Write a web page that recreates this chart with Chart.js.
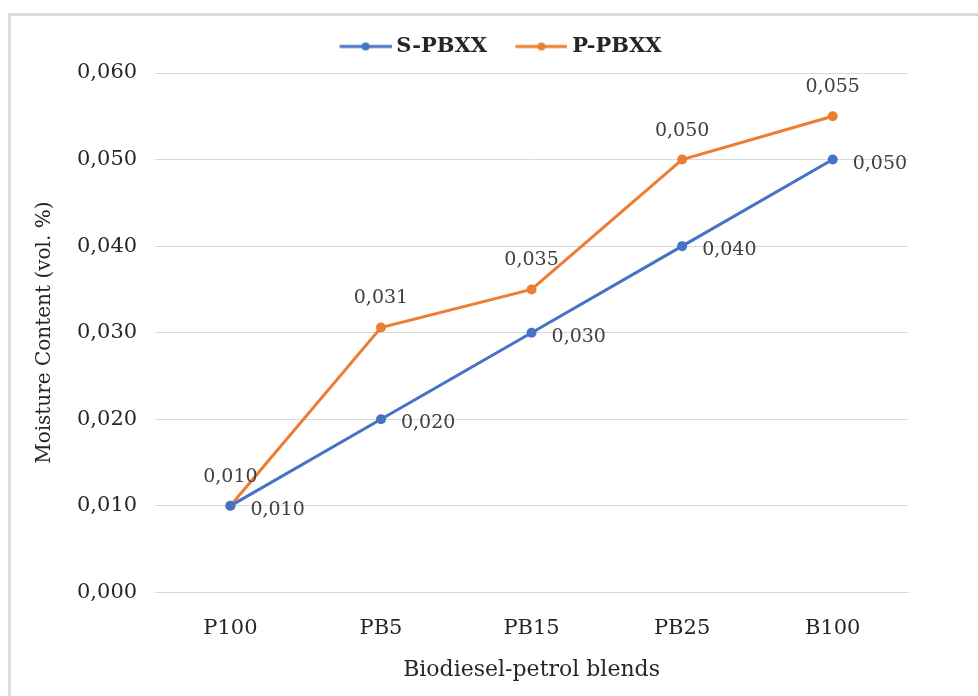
<!DOCTYPE html>
<html>
<head>
<meta charset="utf-8">
<script src="https://cdn.jsdelivr.net/npm/chart.js@4/dist/chart.umd.min.js"></script>
<style>
  html, body { margin: 0; padding: 0; background: #fff; }
  #wrap { position: relative; width: 978px; height: 696px; overflow: hidden; }
  #frame { position: absolute; left: 8px; top: 13px; width: 990px; height: 700px; border-left: 3px solid #dcdcdc; border-top: 3px solid #dcdcdc; box-sizing: border-box; }
  canvas { position: absolute; left: 0; top: 0; }
</style>
</head>
<body>
<div id="wrap">
  <div id="frame"></div>
  <canvas id="c" width="978" height="696"></canvas>
</div>
<script>
const categories = ["P100", "PB5", "PB15", "PB25", "B100"];
const sPBXX = [0.010, 0.020, 0.030, 0.040, 0.050];
const pPBXX = [0.010, 0.0306, 0.035, 0.050, 0.055];
const seriesNames = ["S-PBXX", "P-PBXX"];
const colors = ["#4472C4", "#ED7D31"];

const FONT = "'DejaVu Serif', 'Liberation Serif', serif";

function fmt(v) { return v.toFixed(3).replace('.', ','); }

// legend icon: line with a dot; image is wider than the legend box so the
// line sits close to the text like in the reference
function legendIcon(color) {
  const c = document.createElement('canvas');
  c.width = 76; c.height = 12;
  const x = c.getContext('2d');
  x.strokeStyle = color; x.lineWidth = 3;
  x.beginPath(); x.moveTo(24, 6); x.lineTo(76, 6); x.stroke();
  x.fillStyle = color;
  x.beginPath(); x.arc(50, 6, 4, 0, Math.PI * 2); x.fill();
  return c;
}
const icons = colors.map(legendIcon);

const legendTweak = {
  id: 'legendTweak',
  beforeInit(chart) {
    const fit = chart.legend.fit;
    chart.legend.fit = function () { fit.call(this); this.height += 6; };
  },
  afterLayout(chart) {
    chart.legend.left += 21;
    chart.legend.right += 21;
  }
};

const labelPlugin = {
  id: 'valueLabels',
  afterDatasetsDraw(chart) {
    const ctx = chart.ctx;
    ctx.save();
    ctx.font = "19px " + FONT;
    ctx.fillStyle = "#404040";
    ctx.textBaseline = 'middle';
    chart.data.datasets.forEach((ds, i) => {
      const meta = chart.getDatasetMeta(i);
      meta.data.forEach((pt, j) => {
        const t = fmt(ds.data[j]);
        if (i === 0) {
          ctx.textAlign = 'left';
          ctx.fillText(t, pt.x + 20, pt.y + 4);
        } else {
          ctx.textAlign = 'center';
          ctx.fillText(t, pt.x, pt.y - 29);
        }
      });
    });
    ctx.restore();
  }
};

new Chart(document.getElementById('c'), {
  type: 'line',
  data: {
    labels: categories,
    datasets: [
      { label: seriesNames[0], data: sPBXX, borderColor: colors[0], backgroundColor: colors[0], borderWidth: 3, pointRadius: 5, pointHoverRadius: 5, pointBackgroundColor: colors[0], pointBorderWidth: 0, tension: 0 },
      { label: seriesNames[1], data: pPBXX, borderColor: colors[1], backgroundColor: colors[1], borderWidth: 3, pointRadius: 5, pointHoverRadius: 5, pointBackgroundColor: colors[1], pointBorderWidth: 0, tension: 0 }
    ]
  },
  options: {
    responsive: false,
    animation: false,
    events: [],
    layout: { padding: { left: 33, right: 70, top: 26, bottom: 13 } },
    plugins: {
      tooltip: { enabled: false },
      legend: {
        position: 'top',
        labels: {
          usePointStyle: true,
          pointStyleWidth: 64.5,
          padding: 10,
          color: "#262626",
          font: { family: FONT, size: 21, weight: 'bold' },
          generateLabels(chart) {
            return chart.data.datasets.map((ds, i) => ({
              text: ds.label,
              pointStyle: icons[i],
              fillStyle: colors[i],
              strokeStyle: colors[i],
              lineWidth: 0,
              fontColor: "#262626",
              datasetIndex: i,
              hidden: false
            }));
          }
        }
      }
    },
    scales: {
      x: {
        offset: true,
        grid: { display: false, drawTicks: false },
        border: { display: true, color: '#d9d9d9', width: 1 },
        ticks: { color: '#262626', font: { family: FONT, size: 21 }, padding: 24 },
        title: { display: true, text: 'Biodiesel-petrol blends', color: '#262626', font: { family: FONT, size: 22 }, padding: { top: -9, bottom: 0 } }
      },
      y: {
        min: 0, max: 0.06,
        ticks: { stepSize: 0.01, color: '#262626', font: { family: FONT, size: 21 }, padding: 18, callback: v => fmt(v) },
        grid: { color: '#d9d9d9', drawTicks: false, lineWidth: 1 },
        border: { display: false },
        title: { display: true, text: 'Moisture Content (vol. %)', color: '#262626', font: { family: FONT, size: 20 }, padding: { top: 0, bottom: 2 } }
      }
    }
  },
  plugins: [legendTweak, labelPlugin]
});
</script>
</body>
</html>
